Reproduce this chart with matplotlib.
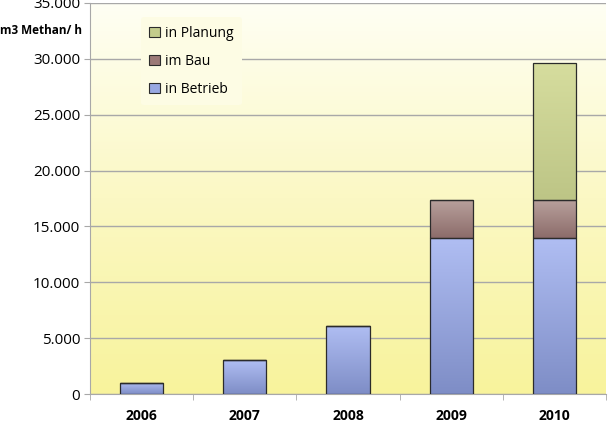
import numpy as np
import matplotlib.pyplot as plt
from matplotlib.ticker import FuncFormatter, FixedLocator
from matplotlib.colors import LinearSegmentedColormap
from matplotlib.patches import Patch

# data
years = ["2006", "2007", "2008", "2009", "2010"]
betrieb = [1000, 3000, 6100, 14000, 14000]
bau = [0, 0, 0, 3400, 3400]
planung = [0, 0, 0, 0, 12200]

plt.rcParams["font.family"] = ["Open Sans", "DejaVu Sans"]

fig = plt.figure(figsize=(6.09, 4.25), dpi=100)
ax = fig.add_axes([90 / 609, 1 - 394 / 425, 516 / 609, 391 / 425])

# background gradient (light top -> yellow bottom)
grad = np.linspace(0, 1, 256).reshape(-1, 1)
bg = LinearSegmentedColormap.from_list("bg", ["#fffff4", "#fbf8c4", "#f8f39c"])
ax.imshow(grad, extent=[-0.5, 4.5, 0, 35000], aspect="auto", cmap=bg,
          origin="upper", zorder=0)

x = np.arange(len(years))
w = 0.42
b = np.array(betrieb)
m = np.array(bau)
p = np.array(planung)

fills = {
    "in Betrieb": ("#98a8e2", ["#b0bef3", "#7e8dc6"]),
    "im Bau": ("#9c7a78", ["#b8a09c", "#8c6c6a"]),
    "in Planung": ("#c3cc8c", ["#d6dd9e", "#bdc586"]),
}

bars = []
bars.append(ax.bar(x, b, w, edgecolor="#2b2b2b", lw=0.9, label="in Betrieb", zorder=3))
bars.append(ax.bar(x, m, w, bottom=b, edgecolor="#2b2b2b", lw=0.9, label="im Bau", zorder=3))
bars.append(ax.bar(x, p, w, bottom=b + m, edgecolor="#2b2b2b", lw=0.9, label="in Planung", zorder=3))

# vertical gradient inside each bar segment
for cont in bars:
    cm_ = LinearSegmentedColormap.from_list("g", fills[cont.get_label()][1])
    for r in cont.patches:
        r.set_facecolor("none")
        r.set_zorder(3.2)
        if r.get_height() <= 0:
            continue
        x0, y0 = r.get_x(), r.get_y()
        im = ax.imshow(grad, extent=[x0, x0 + r.get_width(), y0, y0 + r.get_height()],
                       aspect="auto", cmap=cm_, origin="upper", zorder=3.1)
        im.set_clip_path(r)

ax.set_xlim(-0.5, 4.5)
ax.set_ylim(0, 35000)
ax.set_yticks(np.arange(0, 35001, 5000))
ax.yaxis.set_major_formatter(FuncFormatter(lambda v, pos: f"{int(v):,}".replace(",", ".")))
ax.grid(axis="y", color="#a8a8a8", lw=1.0, zorder=1)

ax.set_xticks(x)
ax.set_xticklabels(years, fontweight="bold", fontsize=10)
ax.xaxis.set_minor_locator(FixedLocator(np.arange(-0.5, 4.6, 1)))
ax.tick_params(axis="x", which="major", length=0, pad=11)
ax.tick_params(axis="x", which="minor", length=4, color="#a8a8a8")
ax.tick_params(axis="y", length=4, color="#a8a8a8", labelsize=11, pad=3)

for s in ["top", "right"]:
    ax.spines[s].set_visible(False)
ax.spines["left"].set_color("#a8a8a8")
ax.spines["bottom"].set_color("#a8a8a8")

fig.text(0 / 609, 1 - 31 / 425, "m3 Methan/ h", fontsize=8.5, fontweight="bold", va="center")

handles = [Patch(facecolor=fills[k][0], edgecolor="#2b2b2b", lw=0.8, label=k)
           for k in ["in Planung", "im Bau", "in Betrieb"]]
leg = ax.legend(handles=handles, loc="upper left", bbox_to_anchor=(0.085, 0.981),
                frameon=True, facecolor="#fdfce4", edgecolor="none", framealpha=1,
                fontsize=10, handlelength=0.75, handleheight=0.75, labelspacing=0.95,
                handletextpad=0.4, borderpad=0.6)
leg.set_zorder(4)

fig.savefig("out.png", dpi=100)
